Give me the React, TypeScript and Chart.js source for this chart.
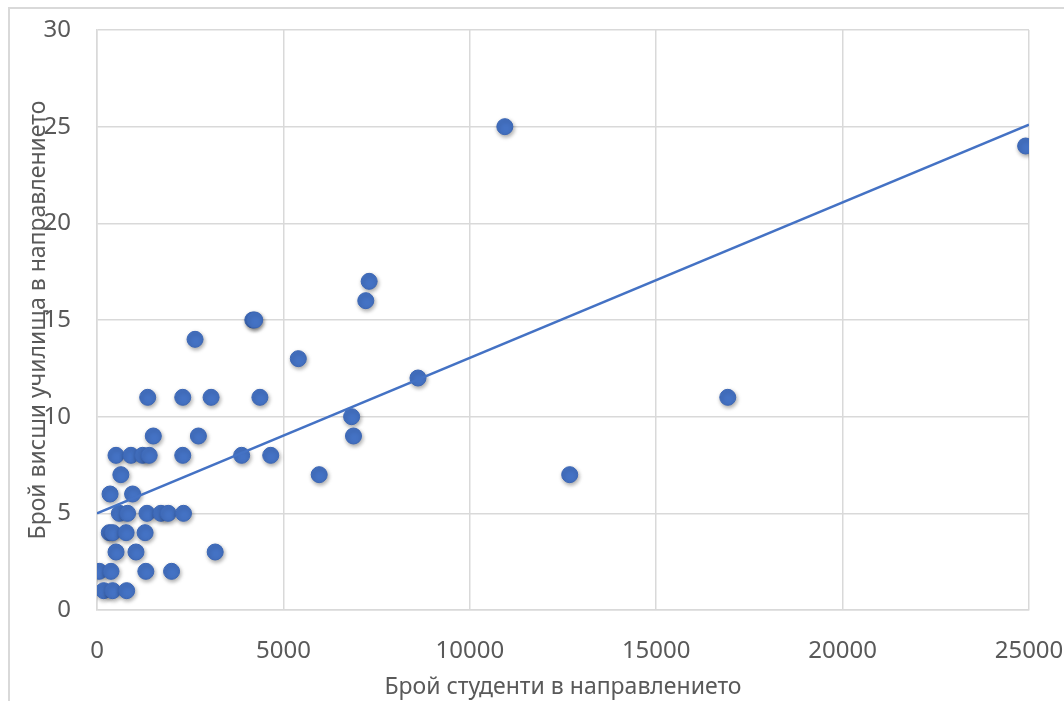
import React, { useEffect, useRef } from "react";
import { Chart, registerables } from "chart.js";

Chart.register(...registerables);

const studentCounts: number[] = [
  1360, 2300, 3060, 4370, 1510, 2720, 510, 910, 1225, 1400, 2300, 3880, 4660,
  640, 350, 955, 600, 820, 1340, 1715, 1910, 2320, 330, 420, 780, 1290, 510,
  1045, 3170, 60, 375, 1310, 2000, 180, 420, 795, 5960, 7300, 7210, 4180, 4230,
  2630, 5400, 8610, 6830, 6880, 10940, 12680, 16920, 24910,
];
const schoolCounts: number[] = [
  11, 11, 11, 11, 9, 9, 8, 8, 8, 8, 8, 8, 8, 7, 6, 6, 5, 5, 5, 5, 5, 5, 4, 4, 4,
  4, 3, 3, 3, 2, 2, 2, 2, 1, 1, 1, 7, 17, 16, 15, 15, 14, 13, 12, 10, 9, 25, 7,
  11, 24,
];
const trendX: number[] = [0, 25000];
const trendY: number[] = [5.0, 25.1];

const xTitle = "Брой студенти в направлението";
const yTitle = "Брой висши училища в направлението";

const FONT = "'Noto Sans', 'DejaVu Sans', sans-serif";
const TEXT = "#595959";
const GRID = "#d9d9d9";
const BLUE = "#4472C4";

export default function App() {
  const ref = useRef<HTMLCanvasElement | null>(null);

  useEffect(() => {
    document.body.style.margin = "0";
    if (!ref.current) return;
    const shadow = {
      id: "pointShadow",
      beforeDatasetDraw(chart: any, args: any) {
        if (args.index === 1) {
          const ctx = chart.ctx;
          ctx.save();
          ctx.shadowColor = "rgba(0,0,0,0.35)";
          ctx.shadowBlur = 4;
          ctx.shadowOffsetX = 1;
          ctx.shadowOffsetY = 2;
        }
      },
      afterDatasetDraw(chart: any, args: any) {
        if (args.index === 1) chart.ctx.restore();
      },
    };
    const chart = new Chart(ref.current, {
      type: "scatter",
      data: {
        datasets: [
          {
            type: "line",
            data: trendX.map((x, i) => ({ x, y: trendY[i] })),
            borderColor: BLUE,
            borderWidth: 2.5,
            pointRadius: 0,
            fill: false,
            order: 0,
          },
          {
            data: studentCounts.map((x, i) => ({ x, y: schoolCounts[i] })),
            backgroundColor: BLUE,
            borderColor: "#3b66b5",
            borderWidth: 1,
            pointRadius: 8,
            order: 1,
          },
        ],
      },
      options: {
        animation: false,
        responsive: false,
        maintainAspectRatio: false,
        layout: { padding: { top: 30, right: 35, left: 0, bottom: 0 } },
        plugins: { legend: { display: false }, tooltip: { enabled: false } },
        scales: {
          x: {
            type: "linear",
            min: 0,
            max: 25000,
            afterFit: (s: any) => {
              s.height = 91;
              s.paddingLeft = 0;
              s.paddingRight = 0;
            },
            ticks: {
              stepSize: 5000,
              color: TEXT,
              padding: 27,
              maxRotation: 0,
              font: { family: FONT, size: 24 },
              callback: (v: any) => String(v),
            },
            grid: { color: GRID, lineWidth: 1.5, drawTicks: false },
            border: { color: GRID, width: 1.5 },
            title: {
              display: true,
              text: xTitle,
              color: TEXT,
              font: { family: FONT, size: 23 },
              padding: { top: 0, bottom: 0 },
            },
          },
          y: {
            type: "linear",
            min: 0,
            max: 30,
            afterFit: (s: any) => {
              s.width = 97;
              s.paddingTop = 0;
              s.paddingBottom = 0;
            },
            ticks: {
              stepSize: 5,
              color: TEXT,
              padding: 26,
              font: { family: FONT, size: 24 },
              callback: (v: any) => String(v),
            },
            grid: { color: GRID, lineWidth: 1.5, drawTicks: false },
            border: { color: GRID, width: 1.5 },
            title: {
              display: true,
              text: yTitle,
              color: TEXT,
              font: { family: FONT, size: 23 },
              padding: { top: 25, bottom: 0 },
            },
          },
        },
      },
      plugins: [shadow],
    });
    return () => chart.destroy();
  }, []);

  return (
    <div style={{ position: "fixed", left: 0, top: 0, width: 1064, height: 701, background: "#fff" }}>
      <div
        style={{
          position: "absolute",
          left: 8,
          top: 7,
          width: 1100,
          height: 800,
          borderTop: "2px solid #d9d9d9",
          borderLeft: "2px solid #d9d9d9",
        }}
      />
      <canvas ref={ref} width={1064} height={701} style={{ position: "absolute", left: 0, top: 0 }} />
    </div>
  );
}
